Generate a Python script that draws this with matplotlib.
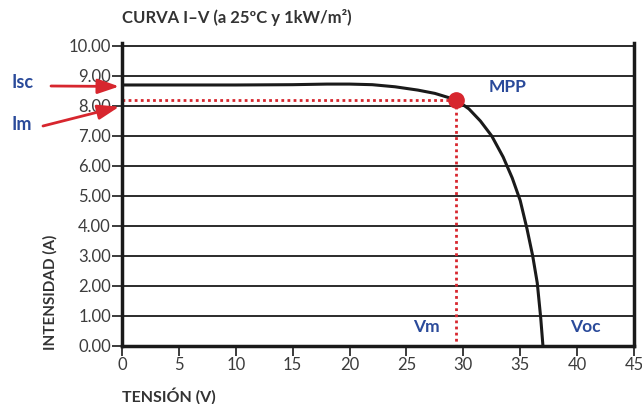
import matplotlib
matplotlib.use('Agg')
import matplotlib.pyplot as plt

# Curve I-V
voltage = [0, 5, 10, 15, 18, 20, 22, 24, 26, 27.5, 29.4, 30.5, 31.5, 32.5,
           33.5, 34.3, 35.0, 35.6, 36.1, 36.5, 36.8, 37.0]
current = [8.70, 8.70, 8.70, 8.71, 8.73, 8.73, 8.71, 8.64, 8.53, 8.42, 8.20,
           7.90, 7.50, 7.00, 6.30, 5.60, 4.85, 3.90, 3.00, 2.10, 0.95, 0.0]

isc = 8.70
vm, im = 29.4, 8.20
voc = 37.0

x_ticks = [0, 5, 10, 15, 20, 25, 30, 35, 40, 45]
y_ticks = [0, 1, 2, 3, 4, 5, 6, 7, 8, 9, 10]

red = '#d7262e'
blue = '#2a4a9a'
dark = '#333333'

plt.rcParams['font.family'] = ['Lato', 'DejaVu Sans']

fig = plt.figure(figsize=(6.42, 4.04), dpi=100)
ax = fig.add_axes([0.190, 0.1436, 0.7975, 0.75])

ax.set_xlim(0, 45)
ax.set_ylim(0, 10.1)

# horizontal grid
for y in y_ticks:
    ax.axhline(y, color='#1a1a1a', lw=1.3, zorder=1)

ax.plot(voltage, current, color='#1a1a1a', lw=2.2, zorder=3)

# dotted guides to MPP
ax.plot([0, vm], [im, im], color=red, lw=2, ls=(0, (1, 1.2)), zorder=2)
ax.plot([vm, vm], [im, 0], color=red, lw=2, ls=(0, (1, 1.2)), zorder=2)
ax.plot([vm], [im], 'o', color=red, ms=11, zorder=4)

ax.set_xticks(x_ticks)
ax.set_yticks(y_ticks)
ax.set_yticklabels([f'{v:.2f}' for v in y_ticks])
ax.tick_params(axis='both', labelsize=12, labelcolor='#3c3c3c', length=7,
               width=1.2, direction='out', pad=1, color='#1a1a1a')

for s in ['left', 'right', 'bottom']:
    ax.spines[s].set_linewidth(2.5)
    ax.spines[s].set_color('#1a1a1a')
ax.spines['top'].set_visible(False)

# labels
ax.text(vm - 1.5, 0.62, 'Vm', color=blue, fontsize=12.5, fontweight='bold',
        ha='right', va='center')
ax.text(voc + 2.4, 0.62, 'Voc', color=blue, fontsize=12.5, fontweight='bold',
        ha='left', va='center')
ax.text(vm + 2.8, 8.62, 'MPP', color=blue, fontsize=12.5, fontweight='bold',
        ha='left', va='center')

fig.text(122 / 642, 1 - 18 / 404, 'CURVA I–V (a 25ºC y 1kW/m²)', color=dark,
         fontsize=12, fontweight='bold', ha='left', va='center')
fig.text(122 / 642, 1 - 396 / 404, 'TENSIÓN (V)', color=dark, fontsize=11.5,
         fontweight='bold', ha='left', va='center')
fig.text(50 / 642, 1 - 292 / 404, 'INTENSIDAD (A)', color=dark, fontsize=11,
         fontweight='bold', ha='center', va='center', rotation=90)

# arrows to Isc and Im
fig.text(12 / 642, 1 - 82 / 404, 'Isc', color=blue, fontsize=13,
         fontweight='bold', ha='left', va='center')
fig.text(12 / 642, 1 - 125 / 404, 'Im', color=blue, fontsize=13,
         fontweight='bold', ha='left', va='center')
arrow = dict(arrowstyle='-|>,head_length=1.3,head_width=0.45', color=red,
             lw=2, shrinkA=0, shrinkB=2)
ax.annotate('', xy=(0, isc - 0.05), xycoords='data',
            xytext=(51, 404 - 86), textcoords='figure pixels',
            arrowprops=arrow, annotation_clip=False)
ax.annotate('', xy=(0, 8.0), xycoords='data',
            xytext=(43, 404 - 126), textcoords='figure pixels',
            arrowprops=arrow, annotation_clip=False)

fig.savefig('out.png', dpi=100)
